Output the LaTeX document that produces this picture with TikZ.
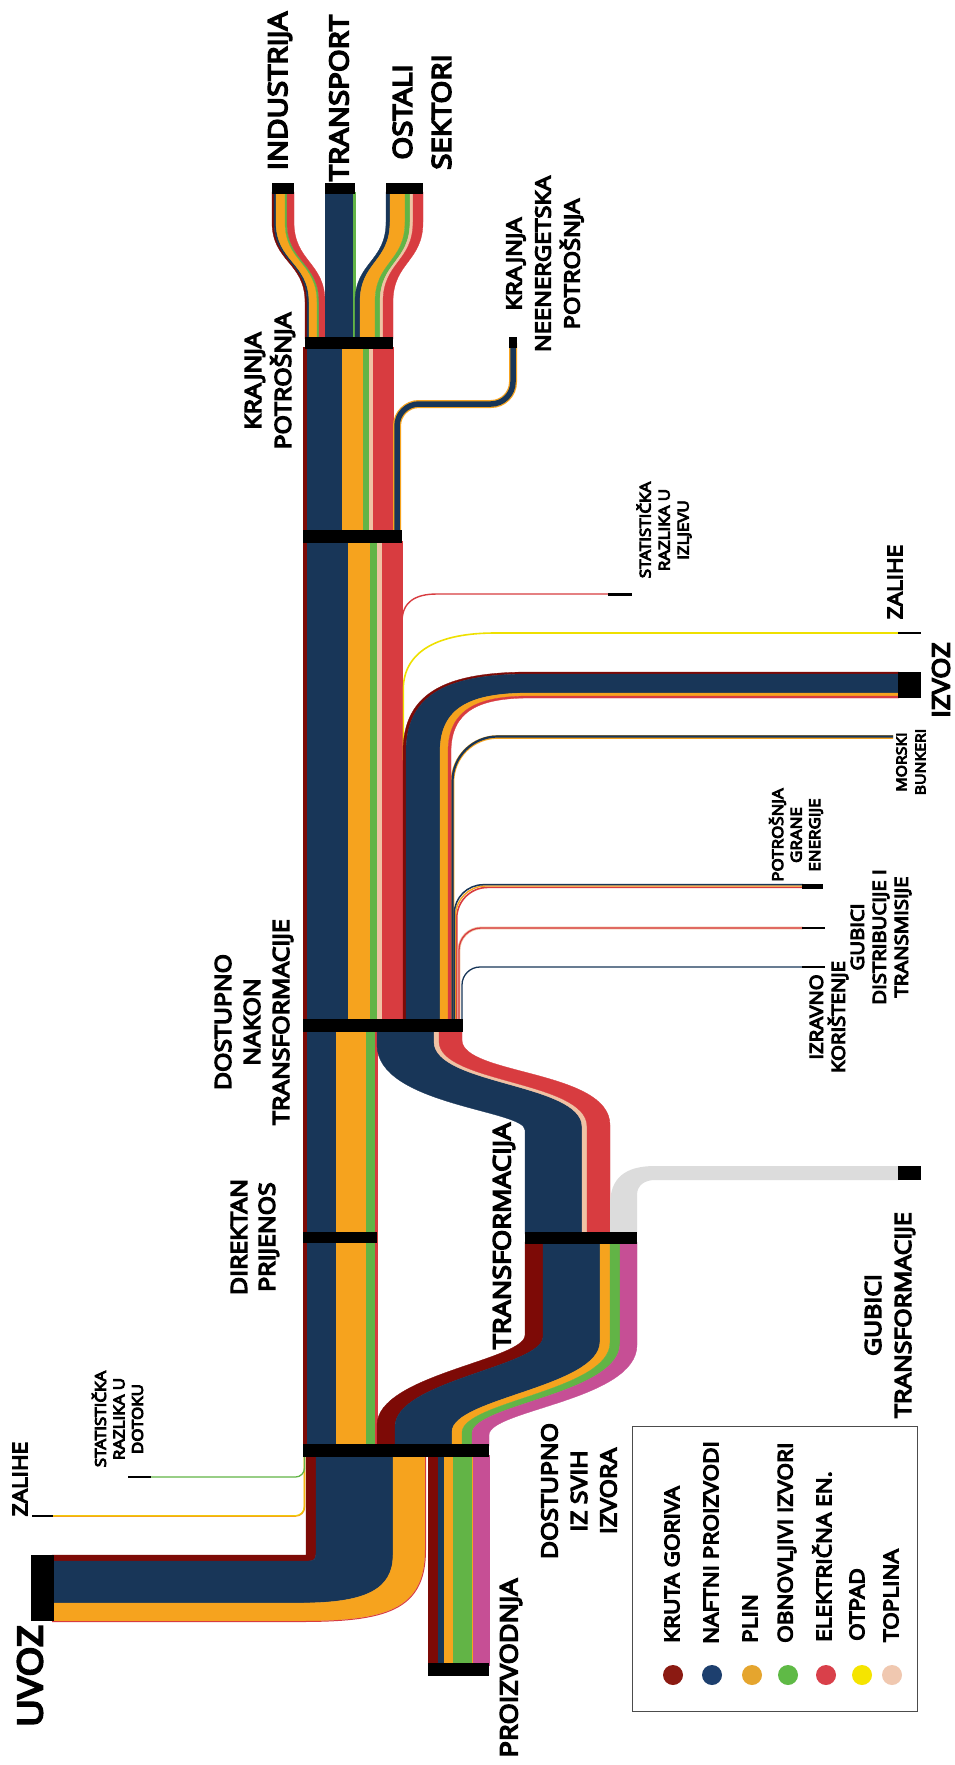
\documentclass[tikz,border=0pt]{standalone}
\usepackage{fontspec}
\setmainfont{Open Sans}[BoldFont={Open Sans},BoldFeatures={FakeBold=6.5,FakeStretch=1.13}]
\definecolor{cdred}{HTML}{7D0A06}
\definecolor{cnavy}{HTML}{183658}
\definecolor{corange}{HTML}{F6A31E}
\definecolor{cgreen}{HTML}{62B446}
\definecolor{cred}{HTML}{D83C40}
\definecolor{cyellow}{HTML}{EEE000}
\definecolor{cpeach}{HTML}{F0C2A4}
\definecolor{cpink}{HTML}{C64F95}
\definecolor{cgrey}{HTML}{DCDCDC}
\definecolor{ldred}{HTML}{8B1A12}
\definecolor{lnavy}{HTML}{1D3F6E}
\definecolor{lorange}{HTML}{E5A52E}
\definecolor{lgreen}{HTML}{5FBA46}
\definecolor{lred}{HTML}{D9404A}
\definecolor{lyellow}{HTML}{F5E400}
\definecolor{lpeach}{HTML}{F0C8B0}
\newcommand{\lfs}[2]{\fontsize{#1}{#2}\selectfont\bfseries}
% top S-shaped flows: color, top-left x, bottom-left x, top-right x, bottom-right x
\newcommand{\topS}[5]{\fill[#1,draw=#1,line width=0.3pt] (#2,192) -- (#2,222) .. controls (#2,262) and (#3,262) .. (#3,302) -- (#3,339) -- (#5,339) -- (#5,302) .. controls (#5,262) and (#4,262) .. (#4,222) -- (#4,192) -- cycle;}
% IZVOZ elbow: color, v_a, h_a, v_b, h_b
\newcommand{\izv}[5]{%
 \pgfmathsetmacro{\rsA}{690+(#2-403)*20/48}%
 \pgfmathsetmacro{\rsB}{450+(#2-403)*30/48}%
 \pgfmathsetmacro{\rsC}{690+(#4-403)*20/48}%
 \pgfmathsetmacro{\rsD}{450+(#4-403)*30/48}%
 \fill[#1,draw=#1,line width=0.3pt] (#2,1021) -- (#2,752) .. controls (#2,\rsA) and (\rsB,#3) .. (530,#3) -- (899,#3) -- (899,#5) -- (530,#5) .. controls (\rsD,#5) and (#4,\rsC) .. (#4,752) -- (#4,1021) -- cycle;}
% upper S (transformation output): color, top x a, top x b
\newcommand{\upS}[3]{%
 \pgfmathsetmacro{\rsA}{1045-5*(#2-377)/85}%
 \pgfmathsetmacro{\rsB}{1105-30*(#2-377)/85}%
 \pgfmathsetmacro{\rsC}{1110-40*(#2-377)/85}%
 \pgfmathsetmacro{\rsD}{1130-5*(#2-377)/85}%
 \pgfmathsetmacro{\rsE}{#2+148}%
 \pgfmathsetmacro{\rsF}{1045-5*(#3-377)/85}%
 \pgfmathsetmacro{\rsG}{1105-30*(#3-377)/85}%
 \pgfmathsetmacro{\rsH}{1110-40*(#3-377)/85}%
 \pgfmathsetmacro{\rsI}{1130-5*(#3-377)/85}%
 \pgfmathsetmacro{\rsJ}{#3+148}%
 \fill[#1,draw=#1,line width=0.3pt] (#2,1030) -- (#2,\rsA) .. controls (#2,\rsB) and (\rsE,\rsC) .. (\rsE,\rsD) -- (\rsE,1234) -- (\rsJ,1234) -- (\rsJ,\rsI) .. controls (\rsJ,\rsH) and (#3,\rsG) .. (#3,\rsF) -- (#3,1030) -- cycle;}
% lower S (transformation input): color, bottom x a, bottom x b
\newcommand{\lowS}[3]{%
 \pgfmathsetmacro{\rsA}{1425+10*(#2-377)/112}%
 \pgfmathsetmacro{\rsB}{1375+35*(#2-377)/112}%
 \pgfmathsetmacro{\rsC}{1360+40*(#2-377)/112}%
 \pgfmathsetmacro{\rsD}{1335+10*(#2-377)/112}%
 \pgfmathsetmacro{\rsE}{#2+148}%
 \pgfmathsetmacro{\rsF}{1425+10*(#3-377)/112}%
 \pgfmathsetmacro{\rsG}{1375+35*(#3-377)/112}%
 \pgfmathsetmacro{\rsH}{1360+40*(#3-377)/112}%
 \pgfmathsetmacro{\rsI}{1335+10*(#3-377)/112}%
 \pgfmathsetmacro{\rsJ}{#3+148}%
 \fill[#1,draw=#1,line width=0.3pt] (#2,1446) -- (#2,\rsA) .. controls (#2,\rsB) and (\rsE,\rsC) .. (\rsE,\rsD) -- (\rsE,1242) -- (\rsJ,1242) -- (\rsJ,\rsI) .. controls (\rsJ,\rsH) and (#3,\rsG) .. (#3,\rsF) -- (#3,1446) -- cycle;}
\begin{document}
\begin{tikzpicture}[x=1pt,y=-1pt,
  lab/.style={rotate=90,align=center,inner sep=0pt,text=black},
  bar/.style={fill=black},
  band/.style={fill=#1,draw=#1,line width=0.3pt}]
\fill[white] (0,0) rectangle (955,1765);
\useasboundingbox (0,0) rectangle (955,1765);

% ---------- top outputs ----------
\topS{cdred}{272}{305}{274}{307}
\topS{cnavy}{274}{307}{276}{309}
\topS{corange}{276}{309}{285}{317}
\topS{cgreen}{285}{317}{287}{319}
\topS{cred}{287}{319}{294}{325}
\fill[band=cnavy] (325,192) rectangle (353,339);
\fill[band=cgreen] (353,192) rectangle (355,339);
\topS{cnavy}{386}{355}{390}{360}
\topS{corange}{390}{360}{405}{375}
\topS{cgreen}{405}{375}{410}{380}
\topS{cpeach}{410}{380}{413}{383}
\topS{cred}{413}{383}{423}{393}

% ---------- trunk between final consumption bars ----------
\fill[band=cdred] (303,347) rectangle (307,532);
\fill[band=cnavy] (307,347) rectangle (342,532);
\fill[band=corange] (342,347) rectangle (363,532);
\fill[band=cgreen] (363,347) rectangle (369,532);
\fill[band=cpeach] (369,347) rectangle (373,532);
\fill[band=cred] (373,347) rectangle (393,532);
\draw[corange,line width=8pt,rounded corners=22pt] (397,536) -- (397,404) -- (513,404) -- (513,343);
\draw[cnavy,line width=5.5pt,rounded corners=22pt] (397,536) -- (397,404) -- (513,404) -- (513,343);

% ---------- trunk after transformation ----------
\fill[band=cdred] (303,541) rectangle (307,1021);
\fill[band=cnavy] (307,541) rectangle (348,1021);
\fill[band=corange] (348,541) rectangle (370,1021);
\fill[band=cgreen] (370,541) rectangle (377,1021);
\fill[band=cpeach] (377,541) rectangle (382,1021);
\fill[band=cred] (382,541) rectangle (402,1021);

% statistical difference out, stocks out
\draw[cyellow,line width=1.6pt] (403.2,760) -- (403.2,690) .. controls (403.2,650) and (440,633) .. (495,633) -- (899,633);
\draw[cred,line width=1.4pt] (402,760) -- (402,622) .. controls (402,602) and (415,594) .. (437,594) -- (609,594);

% thin branches of right column
\draw[corange,line width=3.6pt,rounded corners=45pt] (452.5,1021) -- (452.5,737) -- (893,737);
\draw[cnavy,line width=2.2pt,rounded corners=45pt] (452.5,1021) -- (452.5,736.5) -- (893,736.5);
\draw[cred,line width=1.6pt,rounded corners=31pt] (456.7,1021) -- (456.7,887.4) -- (803,887.4);
\draw[corange,line width=1.4pt,rounded corners=30pt] (455.5,1021) -- (455.5,886) -- (803,886);
\draw[cnavy,line width=1.5pt,rounded corners=29pt] (454.3,1021) -- (454.3,884.7) -- (803,884.7);
\draw[cpeach,line width=2.8pt,rounded corners=22pt] (459,1021) -- (459,928) -- (803,928);
\draw[cred,line width=1.3pt,rounded corners=22pt] (459,1021) -- (459,928) -- (803,928);
\draw[cnavy,line width=1.3pt,rounded corners=18pt] (462,1021) -- (462,967) -- (803,967);

% IZVOZ elbow
\izv{cdred}{403}{672}{406}{674}
\izv{cnavy}{406}{674}{440}{693}
\izv{corange}{440}{693}{448}{696}
\izv{cred}{448}{696}{451}{698}

% ---------- direct transfer column ----------
\fill[band=cdred] (303,1030) rectangle (307,1446);
\fill[band=cnavy] (307,1030) rectangle (336,1446);
\fill[band=corange] (336,1030) rectangle (366,1446);
\fill[band=cgreen] (366,1030) rectangle (375,1446);
\fill[band=cred] (375,1030) rectangle (377,1446);

% ---------- transformation output ----------
\upS{cnavy}{377}{434}
\upS{cpeach}{434}{439}
\upS{cred}{439}{462}

% transformation losses
\fill[cgrey] (610,1234) -- (610,1205) .. controls (610,1178) and (625,1166) .. (655,1166) -- (899,1166) -- (899,1180) -- (655,1180) .. controls (645,1180) and (637,1185) .. (637,1195) -- (637,1234) -- cycle;

% ---------- transformation input ----------
\lowS{cdred}{377}{395}
\lowS{cnavy}{395}{452}
\lowS{corange}{452}{462}
\lowS{cgreen}{462}{472}
\lowS{cpink}{472}{489}

% ---------- UVOZ ----------
\fill[band=cdred] (52,1555) -- (306,1555) -- (306,1455) -- (316,1455) -- (316,1553) .. controls (316,1559) and (314,1561) .. (308,1561) -- (52,1561) -- cycle;
\fill[band=cnavy] (52,1561) -- (308,1561) .. controls (314,1561) and (316,1559) .. (316,1553) -- (316,1455) -- (393,1455) -- (393,1555) .. controls (393,1590) and (365,1603) .. (300,1603) -- (52,1603) -- cycle;
\fill[band=corange] (52,1603) -- (300,1603) .. controls (365,1603) and (393,1590) .. (393,1555) -- (393,1455) -- (425,1455) -- (425,1550) .. controls (425,1610) and (385,1621) .. (300,1621) -- (52,1621) -- cycle;
\draw[cred,line width=1pt] (425.5,1455) -- (425.5,1550) .. controls (425.5,1611) and (385,1621.5) .. (300,1621.5) -- (52,1621.5);

% ---------- PROIZVODNJA ----------
\fill[band=cdred] (428,1455) rectangle (438,1665);
\fill[band=cnavy] (438,1455) rectangle (444,1665);
\fill[band=corange] (444,1455) rectangle (453,1665);
\fill[band=cgreen] (453,1455) rectangle (472,1665);
\fill[band=corange] (472,1455) rectangle (473.5,1665);
\fill[band=cpink] (473.5,1455) rectangle (489,1665);

% inflow lines
\draw[corange,line width=1.6pt,rounded corners=9pt] (52,1516) -- (304.5,1516) -- (304.5,1455);
\draw[cyellow,line width=0.7pt,rounded corners=9pt] (52,1515.6) -- (304.1,1515.6) -- (304.1,1455);
\draw[cgreen,line width=1.3pt,rounded corners=9pt] (150,1477) -- (304.5,1477) -- (304.5,1455);

% ---------- bars ----------
\fill[bar] (272,183) rectangle (294,194);
\fill[bar] (325,183) rectangle (355,194);
\fill[bar] (386,183) rectangle (423,194);
\fill[bar] (305,337) rectangle (393,349);
\fill[bar] (509,337) rectangle (517,348);
\fill[bar] (303,530) rectangle (402,543);
\fill[bar] (608,592.5) rectangle (632,595.5);
\fill[bar] (898,632) rectangle (921,634.2);
\fill[bar] (898,672) rectangle (921,698);
\fill[bar] (802,884) rectangle (823,888.5);
\fill[bar] (802,927) rectangle (825,929.2);
\fill[bar] (802,966) rectangle (825,968.2);
\fill[bar] (303,1019) rectangle (463,1032);
\fill[bar] (303,1232) rectangle (377,1243);
\fill[bar] (525,1232) rectangle (637,1244);
\fill[bar] (898,1166) rectangle (921,1180);
\fill[bar] (303,1444) rectangle (489,1457);
\fill[bar] (31,1555) rectangle (54,1621);
\fill[bar] (428,1663) rectangle (489,1676);
\fill[bar] (32,1515) rectangle (53,1517.2);
\fill[bar] (128,1476) rectangle (151,1478.2);

% ---------- labels ----------
\node[lab,font=\lfs{26}{39}] (industrija) at (280,91) {INDUSTRIJA};
\node[lab,font=\lfs{26}{39}] (transport) at (339,98) {TRANSPORT};
\node[lab,font=\lfs{26}{39}] (ostali) at (422,112) {OSTALI\\SEKTORI};
\node[lab,font=\lfs{22}{30}] (krajnja) at (270,381) {KRAJNJA\\POTROŠNJA};
\node[lab,font=\lfs{21}{29}] (neen) at (545,264) {KRAJNJA\\NEENERGETSKA\\POTROŠNJA};
\node[lab,font=\lfs{15}{19}] (statizl) at (664,530) {STATISTIČKA\\RAZLIKA U\\IZLJEVU};
\node[lab,font=\lfs{20}{24}] (zaliher) at (895,582) {ZALIHE};
\node[lab,font=\lfs{24}{28}] (izvoz) at (941,680) {IZVOZ};
\node[lab,font=\lfs{14}{19}] (bunkeri) at (911,762) {MORSKI\\BUNKERI};
\node[lab,font=\lfs{15}{18.5}] (pge) at (796,835) {POTROŠNJA\\GRANE\\ENERGIJE};
\node[lab,font=\lfs{18}{22}] (gdt) at (881,937) {GUBICI\\DISTRIBUCIJE I\\TRANSMISIJE};
\node[lab,font=\lfs{18}{22}] (izr) at (829,1017) {IZRAVNO\\KORIŠTENJE};
\node[lab,font=\lfs{22}{29}] (dnt) at (254,1022) {DOSTUPNO\\NAKON\\TRANSFORMACIJE};
\node[lab,font=\lfs{22}{28}] (dp) at (255,1237) {DIREKTAN\\PRIJENOS};
\node[lab,font=\lfs{24}{28}] (transf) at (504,1236) {TRANSFORMACIJA};
\node[lab,font=\lfs{22}{30}] (gt) at (890,1315) {GUBICI\\TRANSFORMACIJE};
\node[lab,font=\lfs{15}{18.5}] (statdot) at (117.5,1419) {STATISTIČKA\\RAZLIKA U\\DOTOKU};
\node[lab,font=\lfs{20}{24}] (zalihel) at (20,1479) {ZALIHE};
\node[lab,font=\lfs{34}{40}] (uvoz) at (30,1676) {UVOZ};
\node[lab,font=\lfs{22}{29.5}] (dsi) at (579,1491) {DOSTUPNO\\IZ SVIH\\IZVORA};
\node[lab,font=\lfs{24}{28}] (proiz) at (511,1668) {PROIZVODNJA};

% ---------- legend ----------
\draw[draw=black!70,line width=1pt] (632,1426) rectangle (917,1711);
\fill[ldred] (673,1675) circle (10pt);
\fill[lnavy] (712,1675) circle (10pt);
\fill[lorange] (752,1675) circle (10pt);
\fill[lgreen] (788,1675) circle (10pt);
\fill[lred] (826,1675) circle (10pt);
\fill[lyellow] (862,1675) circle (10pt);
\fill[lpeach] (892,1675) circle (10pt);
\node[lab,anchor=west,font=\lfs{20}{24}] (l1) at (672,1643) {KRUTA GORIVA};
\node[lab,anchor=west,font=\lfs{20}{24}] (l2) at (711,1644) {NAFTNI PROIZVODI};
\node[lab,anchor=west,font=\lfs{20}{24}] (l3) at (750,1643) {PLIN};
\node[lab,anchor=west,font=\lfs{20}{24}] (l4) at (787,1643) {OBNOVLJIVI IZVORI};
\node[lab,anchor=west,font=\lfs{20}{24}] (l5) at (822,1642) {ELEKTRIČNA EN.};
\node[lab,anchor=west,font=\lfs{20}{24}] (l6) at (857,1641) {OTPAD};
\node[lab,anchor=west,font=\lfs{20}{24}] (l7) at (891,1642) {TOPLINA};
\end{tikzpicture}
\end{document}
